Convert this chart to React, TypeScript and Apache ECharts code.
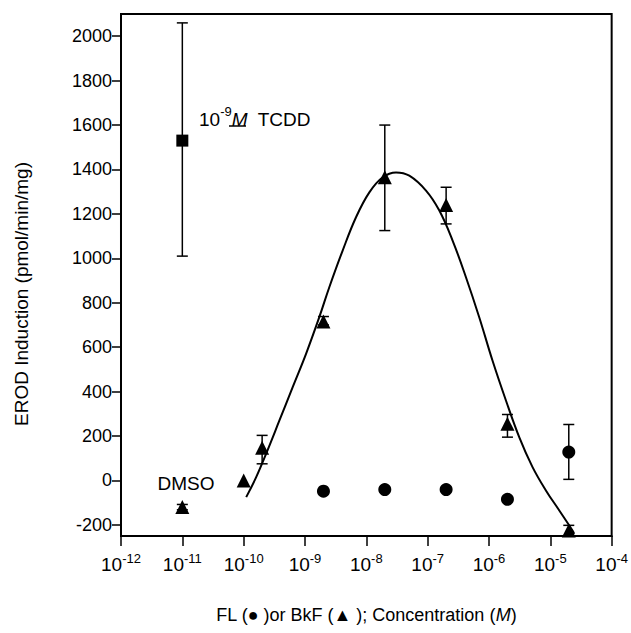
import React, { useEffect, useRef } from "react";
import * as echarts from "echarts";

const FONT = "'Liberation Sans', Arial, Helvetica, sans-serif";

// Tick labels
const xTickExponents = [-12, -11, -10, -9, -8, -7, -6, -5, -4];
const yTicks = [-200, 0, 200, 400, 600, 800, 1000, 1200, 1400, 1600, 1800, 2000];

// BkF (triangles)
const bkfConc = [1e-11, 1e-10, 2e-10, 2e-9, 2e-8, 2e-7, 2e-6, 2e-5];
const bkfValue = [-120, 0, 147, 716, 1365, 1240, 255, -225];

// FL (circles)
const flConc = [2e-9, 2e-8, 2e-7, 2e-6, 2e-5];
const flValue = [-48, -41, -41, -85, 128];

// TCDD positive control (square)
const tcddConc = [1e-11];
const tcddValue = [1530];

// Error bars
const errConc = [1e-11, 1e-11, 2e-10, 2e-9, 2e-8, 2e-7, 2e-6, 2e-5, 2e-5];
const errLow = [1010, -132, 75, 700, 1125, 1155, 195, -248, 5];
const errHigh = [2060, -108, 203, 738, 1600, 1320, 297, -202, 252];

// Fitted curve
const curveConc = [
  1.1e-10, 1.6e-10, 2.32e-10, 3.83e-10, 6.3e-10, 1.04e-9, 1.71e-9, 2.49e-9, 4.11e-9,
  6.79e-9, 1.12e-8, 1.85e-8, 3.05e-8, 5.02e-8, 9.4e-8, 1.55e-7, 2.55e-7, 4.21e-7,
  6.93e-7, 1.14e-6, 1.89e-6, 3.11e-6, 5.13e-6, 8.47e-6, 1.4e-5, 2.3e-5, 2.45e-5,
];
const curveValue = [
  -75, 15, 120, 270, 420, 570, 735, 870, 1035, 1185, 1297, 1365, 1387, 1372, 1305,
  1215, 1080, 915, 735, 540, 360, 195, 60, -45, -135, -225, -240,
];

export default function App() {
  const ref = useRef<HTMLDivElement>(null);

  useEffect(() => {
    document.body.style.margin = "0";
    if (!ref.current) return;
    const chart = echarts.init(ref.current, null, { renderer: "svg" });

    const xTickSet = new Set(xTickExponents);

    const option: any = {
      animation: false,
      backgroundColor: "#fff",
      textStyle: { fontFamily: FONT, color: "#000" },
      grid: {
        left: 121,
        top: 14,
        width: 492,
        height: 522,
        show: true,
        borderColor: "#000",
        borderWidth: 2,
        backgroundColor: "transparent",
      },
      xAxis: {
        type: "log",
        logBase: 10,
        min: 1e-12,
        max: 1e-4,
        interval: 1,
        splitNumber: 8,
        axisLine: { show: true, onZero: false, lineStyle: { color: "#000", width: 2 } },
        axisTick: { show: true, inside: false, length: 10, lineStyle: { color: "#000", width: 1.5 } },
        minorTick: { show: false },
        splitLine: { show: false },
        axisLabel: {
          margin: 16,
          color: "#000",
          formatter: (v: number) => {
            const e = Math.round(Math.log10(v));
            if (!xTickSet.has(e)) return "";
            return `{b|10}{s|${e}}`;
          },
          rich: {
            b: { fontSize: 19, fontFamily: FONT, color: "#000", lineHeight: 22, verticalAlign: "bottom" },
            s: { fontSize: 13, fontFamily: FONT, color: "#000", lineHeight: 22, verticalAlign: "top", padding: [0, 0, 0, 0] },
          },
        },
        name: "{a|FL (● )or BkF (▲ ); Concentration (}{i|M}{a|)}",
        nameLocation: "middle",
        nameGap: 70,
        nameTextStyle: {
          rich: {
            a: { fontSize: 18, fontFamily: FONT, color: "#000" },
            i: { fontSize: 18, fontFamily: FONT, color: "#000", fontStyle: "italic" },
          },
        },
      },
      yAxis: {
        type: "value",
        min: -250,
        max: 2100,
        axisLine: { show: true, onZero: false, lineStyle: { color: "#000", width: 2 } },
        axisTick: {
          show: true,
          inside: false,
          length: 9,
          customValues: yTicks,
          lineStyle: { color: "#000", width: 1.5 },
        },
        splitLine: { show: false },
        axisLabel: {
          margin: 9,
          fontSize: 18,
          color: "#000",
          fontFamily: FONT,
          customValues: yTicks,
          formatter: (v: number) => String(v),
        },
      },
      graphic: [
        {
          type: "text",
          x: 21,
          y: 294,
          rotation: Math.PI / 2,
          style: {
            text: "EROD Induction (pmol/min/mg)",
            fontSize: 19,
            fontFamily: FONT,
            fill: "#000",
            textAlign: "center",
            textVerticalAlign: "middle",
          },
        },
        {
          type: "text",
          x: 199,
          y: 117,
          style: {
            text: "{b|10}{s|-9}{m|M}{b|  TCDD}",
            rich: {
              b: { fontSize: 19, fontFamily: FONT, fill: "#000", lineHeight: 24, verticalAlign: "bottom" },
              s: { fontSize: 13, fontFamily: FONT, fill: "#000", lineHeight: 24, verticalAlign: "top" },
              m: { fontSize: 19, fontFamily: FONT, fill: "#000", fontStyle: "italic", lineHeight: 24, verticalAlign: "bottom" },
            },
            textVerticalAlign: "middle",
          },
        },
        {
          type: "line",
          shape: { x1: 229, y1: 126, x2: 246, y2: 126 },
          style: { stroke: "#000", lineWidth: 1.5 },
        },
        {
          type: "text",
          x: 186,
          y: 483,
          style: {
            text: "DMSO",
            fontSize: 19,
            fontFamily: FONT,
            fill: "#000",
            textAlign: "center",
            textVerticalAlign: "middle",
          },
        },
      ],
      series: [
        {
          type: "line",
          data: curveConc.map((c, i) => [c, curveValue[i]]),
          smooth: 0.4,
          showSymbol: false,
          symbol: "none",
          lineStyle: { color: "#000", width: 2 },
          z: 2,
        },
        {
          type: "custom",
          data: errConc.map((c, i) => [c, errLow[i], errHigh[i]]),
          encode: { x: 0, y: [1, 2] },
          renderItem: (params: any, api: any) => {
            const x = api.value(0);
            const lo = api.coord([x, api.value(1)]);
            const hi = api.coord([x, api.value(2)]);
            const hw = 5.5;
            const st = { stroke: "#000", lineWidth: 1.5 };
            return {
              type: "group",
              children: [
                { type: "line", shape: { x1: lo[0], y1: lo[1], x2: hi[0], y2: hi[1] }, style: st },
                { type: "line", shape: { x1: lo[0] - hw, y1: lo[1], x2: lo[0] + hw, y2: lo[1] }, style: st },
                { type: "line", shape: { x1: hi[0] - hw, y1: hi[1], x2: hi[0] + hw, y2: hi[1] }, style: st },
              ],
            };
          },
          z: 3,
        },
        {
          type: "scatter",
          data: bkfConc.map((c, i) => [c, bkfValue[i]]),
          symbol: "triangle",
          symbolSize: 14,
          itemStyle: { color: "#000", opacity: 1 },
          z: 4,
        },
        {
          type: "scatter",
          data: flConc.map((c, i) => [c, flValue[i]]),
          symbol: "circle",
          symbolSize: 13,
          itemStyle: { color: "#000", opacity: 1 },
          z: 4,
        },
        {
          type: "scatter",
          data: tcddConc.map((c, i) => [c, tcddValue[i]]),
          symbol: "rect",
          symbolSize: 12,
          itemStyle: { color: "#000", opacity: 1 },
          z: 4,
        },
      ],
    };

    chart.setOption(option);
    return () => chart.dispose();
  }, []);

  return <div ref={ref} style={{ width: 631, height: 633 }} />;
}
